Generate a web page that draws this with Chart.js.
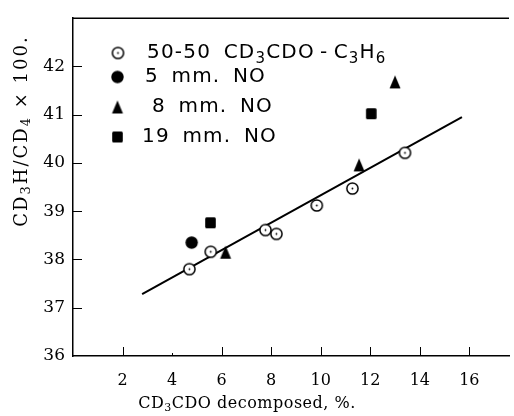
<!DOCTYPE html>
<html>
<head>
<meta charset="utf-8">
<script src="https://cdn.jsdelivr.net/npm/chart.js@4.4.1/dist/chart.umd.min.js"></script>
<style>
  html, body { margin: 0; padding: 0; background: #fff; }
  #wrap { width: 514px; height: 416px; }
</style>
</head>
<body>
<div id="wrap"><canvas id="c" width="514" height="416"></canvas></div>
<script>
// ---- data ----
const xTicks = [2, 4, 6, 8, 10, 12, 14, 16];
const yTicks = [36, 37, 38, 39, 40, 41, 42];

const mixtureX = [4.70, 5.56, 7.77, 8.21, 9.84, 11.28, 13.40];
const mixtureY = [37.80, 38.16, 38.61, 38.53, 39.12, 39.47, 40.21];

const no5X = [4.79];
const no5Y = [38.35];

const no8X = [6.16, 11.55, 13.00];
const no8Y = [38.15, 39.96, 41.68];

const no19X = [5.55, 12.04];
const no19Y = [38.76, 41.02];

const fitX = [2.79, 15.70];
const fitY = [37.28, 40.95];

const seriesLabels = ['50-50 CD_3CDO\u2009-\u2009C_3H_6', '5 mm. NO', '8 mm. NO', '19 mm. NO'];
const xTitle = 'CD_3CDO decomposed, %.';
const yTitle = 'CD_3H/CD_4 \u00d7 100.';

// ---- marker images ----
function mk(w, h, draw) {
  const c = document.createElement('canvas');
  c.width = w; c.height = h;
  const g = c.getContext('2d');
  draw(g, w, h);
  return c;
}
const dotCircle = mk(15, 15, (g) => {
  g.beginPath(); g.arc(7.5, 7.5, 5.6, 0, Math.PI * 2);
  g.fillStyle = '#fff'; g.fill();
  g.lineWidth = 1.5; g.strokeStyle = '#000'; g.stroke();
  g.beginPath(); g.arc(7.5, 7.5, 0.9, 0, Math.PI * 2);
  g.fillStyle = '#000'; g.fill();
});
const fullCircle = mk(15, 15, (g) => {
  g.beginPath(); g.arc(7.5, 7.5, 6.2, 0, Math.PI * 2);
  g.fillStyle = '#000'; g.fill();
});
const triangle = mk(14, 15, (g) => {
  g.beginPath();
  g.moveTo(7, 1); g.lineTo(12.5, 14); g.lineTo(1.5, 14); g.closePath();
  g.fillStyle = '#000'; g.fill();
});
const square = mk(13, 13, (g) => {
  g.beginPath();
  if (g.roundRect) g.roundRect(1.2, 1, 10.6, 11, 1.5); else g.rect(1.2, 1, 10.6, 11);
  g.fillStyle = '#000'; g.fill();
});
const markers = [dotCircle, fullCircle, triangle, square];

function pts(xs, ys) { return xs.map((x, i) => ({ x: x, y: ys[i] })); }

// rich text with "_n" subscripts
function segs(str) {
  const out = [];
  const re = /_(\d+)/g;
  let last = 0, m;
  while ((m = re.exec(str)) !== null) {
    if (m.index > last) out.push({ t: str.slice(last, m.index), sub: false });
    out.push({ t: m[1], sub: true });
    last = re.lastIndex;
  }
  if (last < str.length) out.push({ t: str.slice(last), sub: false });
  return out;
}
function drawRich(ctx, str, x, y, size, family, align, subScale, subDrop) {
  const parts = segs(str);
  const fontN = size + 'px ' + family;
  const fontS = Math.round(size * subScale) + 'px ' + family;
  let total = 0;
  parts.forEach(p => { ctx.font = p.sub ? fontS : fontN; p.w = ctx.measureText(p.t).width; total += p.w; });
  let cx = x;
  if (align === 'center') cx = x - total / 2;
  else if (align === 'right') cx = x - total;
  ctx.textAlign = 'left';
  ctx.textBaseline = 'middle';
  parts.forEach(p => {
    ctx.font = p.sub ? fontS : fontN;
    ctx.fillText(p.t, cx, p.sub ? y + size * subDrop : y);
    cx += p.w;
  });
}

const legendRows = [
  { mx: 118, y: 53, tx: 147 },
  { mx: 117.5, y: 77, tx: 145 },
  { mx: 117.5, y: 107, tx: 152 },
  { mx: 117.5, y: 137, tx: 142 }
];

const decor = {
  id: 'decor',
  afterDraw(chart) {
    const ctx = chart.ctx;
    const a = chart.chartArea;
    const xs = chart.scales.x, ys = chart.scales.y;
    ctx.save();
    ctx.strokeStyle = '#000';
    ctx.fillStyle = '#000';
    // top frame line
    ctx.lineWidth = 1.5;
    ctx.beginPath(); ctx.moveTo(a.left, a.top); ctx.lineTo(a.right, a.top); ctx.stroke();
    // inward tick marks
    ctx.lineWidth = 1;
    xTicks.forEach(v => {
      const px = Math.round(xs.getPixelForValue(v)) + 0.5;
      ctx.beginPath(); ctx.moveTo(px, a.bottom); ctx.lineTo(px, a.bottom - (v === 4 ? 3 : 9)); ctx.stroke();
    });
    yTicks.forEach(v => {
      if (v === 36) return;
      const py = Math.round(ys.getPixelForValue(v)) + 0.5;
      ctx.beginPath(); ctx.moveTo(a.left, py); ctx.lineTo(a.left + 9, py); ctx.stroke();
    });
    // legend
    ctx.letterSpacing = '1.2px';
    ctx.wordSpacing = '5px';
    legendRows.forEach((r, i) => {
      const img = markers[i];
      ctx.drawImage(img, r.mx - img.width / 2, r.y - img.height / 2);
      drawRich(ctx, seriesLabels[i], r.tx, r.y, 20, '"DejaVu Sans"', 'left', 0.75, 0.3);
    });
    ctx.wordSpacing = '0px';
    // axis titles
    ctx.letterSpacing = '0.5px';
    drawRich(ctx, xTitle, 247, 404, 16, '"DejaVu Serif"', 'center', 0.7, 0.25);
    ctx.letterSpacing = '2px';
    ctx.translate(22, 131);
    ctx.rotate(-Math.PI / 2);
    drawRich(ctx, yTitle, 0, 0, 18, '"DejaVu Serif"', 'center', 0.7, 0.25);
    ctx.restore();
  }
};

new Chart(document.getElementById('c'), {
  type: 'scatter',
  data: {
    datasets: [
      { type: 'line', label: 'fit', data: pts(fitX, fitY), borderColor: '#000', borderWidth: 2,
        pointRadius: 0, fill: false, tension: 0, order: 5 },
      { label: seriesLabels[0], data: pts(mixtureX, mixtureY), pointStyle: dotCircle, order: 1 },
      { label: seriesLabels[1], data: pts(no5X, no5Y), pointStyle: fullCircle, order: 1 },
      { label: seriesLabels[2], data: pts(no8X, no8Y), pointStyle: triangle, order: 1 },
      { label: seriesLabels[3], data: pts(no19X, no19Y), pointStyle: square, order: 1 }
    ]
  },
  options: {
    responsive: false,
    animation: false,
    devicePixelRatio: 1,
    layout: { padding: { top: 13, right: 0, left: 0, bottom: 0 } },
    plugins: { legend: { display: false }, tooltip: { enabled: false } },
    scales: {
      x: {
        type: 'linear', min: 0, max: 17.6,
        afterBuildTicks: s => { s.ticks = xTicks.map(v => ({ value: v })); },
        afterFit: s => { s.height = 60; },
        grid: { display: false, drawTicks: false },
        border: { display: true, color: '#000', width: 1.5 },
        ticks: { color: '#000', font: { family: '"DejaVu Serif"', size: 16 }, padding: 15, maxRotation: 0, autoSkip: false }
      },
      y: {
        type: 'linear', min: 36, max: 43,
        afterBuildTicks: s => { s.ticks = yTicks.map(v => ({ value: v })); },
        afterFit: s => { s.width = 73; },
        grid: { display: false, drawTicks: false },
        border: { display: true, color: '#000', width: 1.5 },
        ticks: { color: '#000', font: { family: '"DejaVu Serif"', size: 17 }, padding: 8, autoSkip: false }
      }
    }
  },
  plugins: [decor]
});
</script>
</body>
</html>
